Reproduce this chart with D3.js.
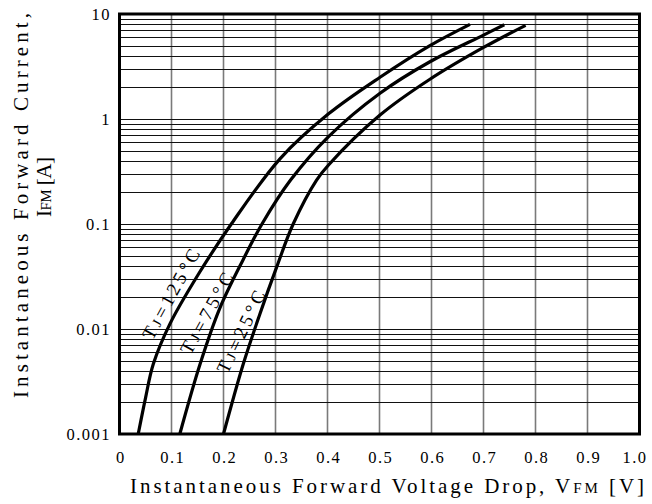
<!DOCTYPE html>
<html><head><meta charset="utf-8">
<script src="https://cdn.jsdelivr.net/npm/d3@7"></script>
<style>
html,body{margin:0;padding:0;background:#fff;}
svg{display:block;}
text{font-family:"Liberation Serif",serif;fill:#000;}
</style></head>
<body><svg id="c" width="652" height="504"></svg>
<script>
// ---- data ----
const xTickValues = [0,0.1,0.2,0.3,0.4,0.5,0.6,0.7,0.8,0.9,1.0];
const xTickLabels = ["0","0.1","0.2","0.3","0.4","0.5","0.6","0.7","0.8","0.9","1.0"];
const yTickValues = [0.001,0.01,0.1,1,10];
const yTickLabels = ["0.001","0.01","0.1","1","10"];
const seriesNames = ["125","75","25"];
const v125 = [0.036,0.050,0.065,0.097,0.152,0.215,0.309,0.402,0.501,0.597,0.674];
const i125 = [0.001,0.0022,0.00464,0.0112,0.0334,0.1,0.42,1.12,2.5,5.0,7.97];
const v75  = [0.116,0.155,0.193,0.238,0.274,0.329,0.402,0.501,0.597,0.700,0.740];
const i75  = [0.001,0.00464,0.0158,0.046,0.1,0.262,0.68,1.76,3.51,6.3,7.9];
const v25  = [0.200,0.238,0.270,0.302,0.334,0.379,0.402,0.501,0.597,0.700,0.781];
const i25  = [0.001,0.00464,0.0139,0.0386,0.1,0.262,0.365,1.09,2.39,4.8,7.8];
// curve label anchor points (data units)
const labelV = [0.099,0.168,0.234];
const labelI = [0.0215,0.0141,0.0094];
const labelAngle = [-61.3,-61,-64.4];
const labelLen = [100,90,89];

// ---- chart ----
const svg = d3.select("#c");
const x = d3.scaleLinear().domain([0,1]).range([119.5,639.5]);
const y = d3.scaleLog().domain([0.001,10]).range([434,14]);

// grid: vertical
const g = svg.append("g");
g.selectAll("line.vg").data(xTickValues.slice(1,-1)).enter().append("line")
  .attr("x1",d=>x(d)).attr("x2",d=>x(d)).attr("y1",y(10)).attr("y2",y(0.001))
  .attr("stroke","#7a7a7a").attr("stroke-width",1.6);
// grid: horizontal
const hVals = [];
[0.001,0.01,0.1,1].forEach(d=>{ for(let k=1;k<=9;k++){ const v=d*k; if(v>0.001) hVals.push(v);} });
g.selectAll("line.hg").data(hVals).enter().append("line")
  .attr("x1",x(0)).attr("x2",x(1)).attr("y1",d=>Math.round(y(d))+0.5).attr("y2",d=>Math.round(y(d))+0.5)
  .attr("stroke","#111").attr("stroke-width",1.1);

// curves
const line = d3.line().x(d=>x(d[0])).y(d=>y(d[1])).curve(d3.curveCatmullRom.alpha(0.5));
const series = [d3.zip(v125,i125), d3.zip(v75,i75), d3.zip(v25,i25)];
svg.append("g").selectAll("path").data(series).enter().append("path")
  .attr("d",line).attr("fill","none").attr("stroke","#000").attr("stroke-width",3.2)
  .attr("stroke-linecap","butt");

// border
svg.append("rect").attr("x",x(0)).attr("y",y(10)).attr("width",x(1)-x(0)).attr("height",y(0.001)-y(10))
  .attr("fill","none").attr("stroke","#000").attr("stroke-width",3);

// curve labels
seriesNames.forEach((n,k)=>{
  const t = svg.append("text")
    .attr("transform",`translate(${x(labelV[k])},${y(labelI[k])}) rotate(${labelAngle[k]})`)
    .attr("text-anchor","middle").attr("dy","0.33em")
    .attr("font-size",19)
    .attr("textLength",labelLen[k]).attr("lengthAdjust","spacing");
  t.append("tspan").text("T");
  t.append("tspan").attr("font-size",14).text("J");
  t.append("tspan").text("=" + n + "°C");
});

// x tick labels
const xa = svg.append("g").attr("transform",`translate(0,${y(0.001)})`)
  .call(d3.axisBottom(x).tickValues(xTickValues).tickSize(0).tickPadding(0)
    .tickFormat((d,i)=>xTickLabels[i]));
xa.select(".domain").remove();
xa.selectAll("text").attr("font-family","Liberation Serif").attr("font-size",16.5).attr("fill","#000")
  .attr("letter-spacing",1.5)
  .attr("y",29).attr("dy",0)
  .attr("dx",(d,i)=> i===xTickLabels.length-1 ? -5 : 0.75);

// y tick labels
const ya = svg.append("g").attr("transform",`translate(${x(0)},0)`)
  .call(d3.axisLeft(y).tickValues(yTickValues).tickSize(0).tickPadding(0)
    .tickFormat((d,i)=>yTickLabels[i]));
ya.select(".domain").remove();
ya.selectAll("text").attr("font-family","Liberation Serif").attr("font-size",16.5).attr("fill","#000")
  .attr("letter-spacing",1.5)
  .attr("x",-8.5).attr("dy","0.35em");

// x title
const xt = svg.append("text").attr("x",130).attr("y",493).attr("font-size",21)
  .attr("textLength",514).attr("lengthAdjust","spacing");
xt.append("tspan").text("Instantaneous  Forward  Voltage  Drop,  V");
xt.append("tspan").attr("font-size",15).text("FM");
xt.append("tspan").text("  [V]");

// y title
svg.append("text").attr("transform","translate(28,398) rotate(-90)").attr("font-size",21)
  .attr("textLength",385).attr("lengthAdjust","spacing")
  .text("Instantaneous  Forward  Current,");
const yt2 = svg.append("text").attr("transform","translate(51,217) rotate(-90)").attr("font-size",21)
  .attr("textLength",60).attr("lengthAdjust","spacing");
yt2.append("tspan").text("I");
yt2.append("tspan").attr("font-size",15).text("FM");
yt2.append("tspan").text(" [A]");
</script></body></html>
